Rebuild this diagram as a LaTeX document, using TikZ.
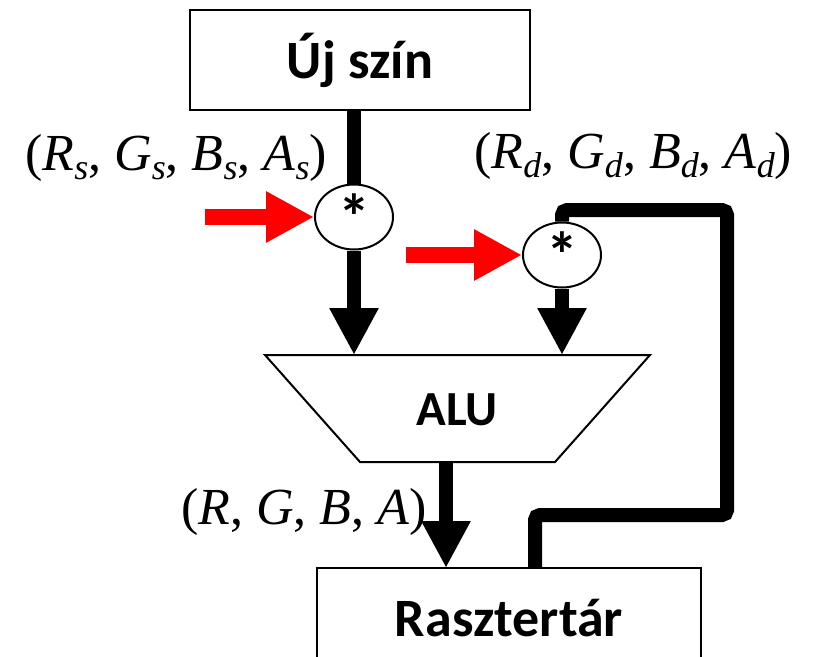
\documentclass[tikz,border=0pt]{standalone}
\usepackage{fontspec}
\setmainfont{Carlito}
\newfontfamily\labfont{Liberation Serif}
\newcommand\vsub[2]{\textit{#1}\raisebox{-9pt}{\fontsize{36}{36}\selectfont\textit{#2}}}
\usetikzlibrary{arrows.meta,shapes.geometric}
\begin{document}
\begin{tikzpicture}[x=1pt,y=-1pt,
  blockbox/.style={draw,line width=2pt,minimum width=340pt,minimum height=100pt,inner sep=0pt,font=\bfseries\fontsize{54}{54}\selectfont},
  mulnode/.style={draw,ellipse,line width=2pt,minimum width=78pt,minimum height=65pt,inner sep=0pt,font=\bfseries\fontsize{64}{64}\selectfont},
  bigarrow/.style={line width=14pt,-{Triangle[width=46pt,length=47pt]}},
  busline/.style={line width=14pt},
  redarrow/.style={line width=16pt,red,-{Triangle[width=48pt,length=48pt]}},
  mathlabel/.style={inner sep=0pt,anchor=base west,font=\labfont\fontsize{52}{52}\selectfont}]
\clip (0,0) rectangle (818,656);
% blocks
\node[blockbox] (uj) at (360,60) {Új szín};
\node[blockbox,minimum width=384pt] (ras) at (509,618) {Rasztertár};
% ALU
\draw[line width=2pt,line join=miter] (265,355) -- (650,355) -- (555,462) -- (360,462) -- cycle;
\node[font=\bfseries\fontsize{49}{49}\selectfont] (alu) at (457,410) {ALU};
% multipliers
\node[mulnode] (m1) at (354,217) {\raisebox{-6pt}{*}};
\node[mulnode] (m2) at (562,255) {\raisebox{-6pt}{*}};
% coordinates
\coordinate (in1) at (354,355);
\coordinate (in2) at (562,355);
\coordinate (out) at (446,462);
\coordinate (rin) at (446,568);
\coordinate (fb) at (535,568);
\coordinate (r1) at (205,217);
\coordinate (r2) at (406,255);
% connectors
\draw[busline] (m1 |- uj.south) -- (m1.north);
\draw[bigarrow] (m1.south) -- (in1);
\draw[bigarrow] (m2.south) -- (in2);
\draw[bigarrow] (out) -- (rin);
\draw[busline,rounded corners=5pt] (fb) -- (535,515) -- (727,515) -- (727,210) -- (562,210) -- (m2.north);
\draw[redarrow] (r1) -- (m1.west);
\draw[redarrow] (r2) -- (m2.west);
% labels
\node[mathlabel] (ls) at (25,170) {(\vsub{R}{s}, \vsub{G}{s}, \vsub{B}{s}, \vsub{A}{s})};
\node[mathlabel] (ld) at (474,168) {(\vsub{R}{d}, \vsub{G}{d}, \vsub{B}{d}, \vsub{A}{d})};
\node[mathlabel] (lo) at (181,524) {(\textit{R}, \textit{G}, \textit{B}, \textit{A})};
\end{tikzpicture}
\end{document}
